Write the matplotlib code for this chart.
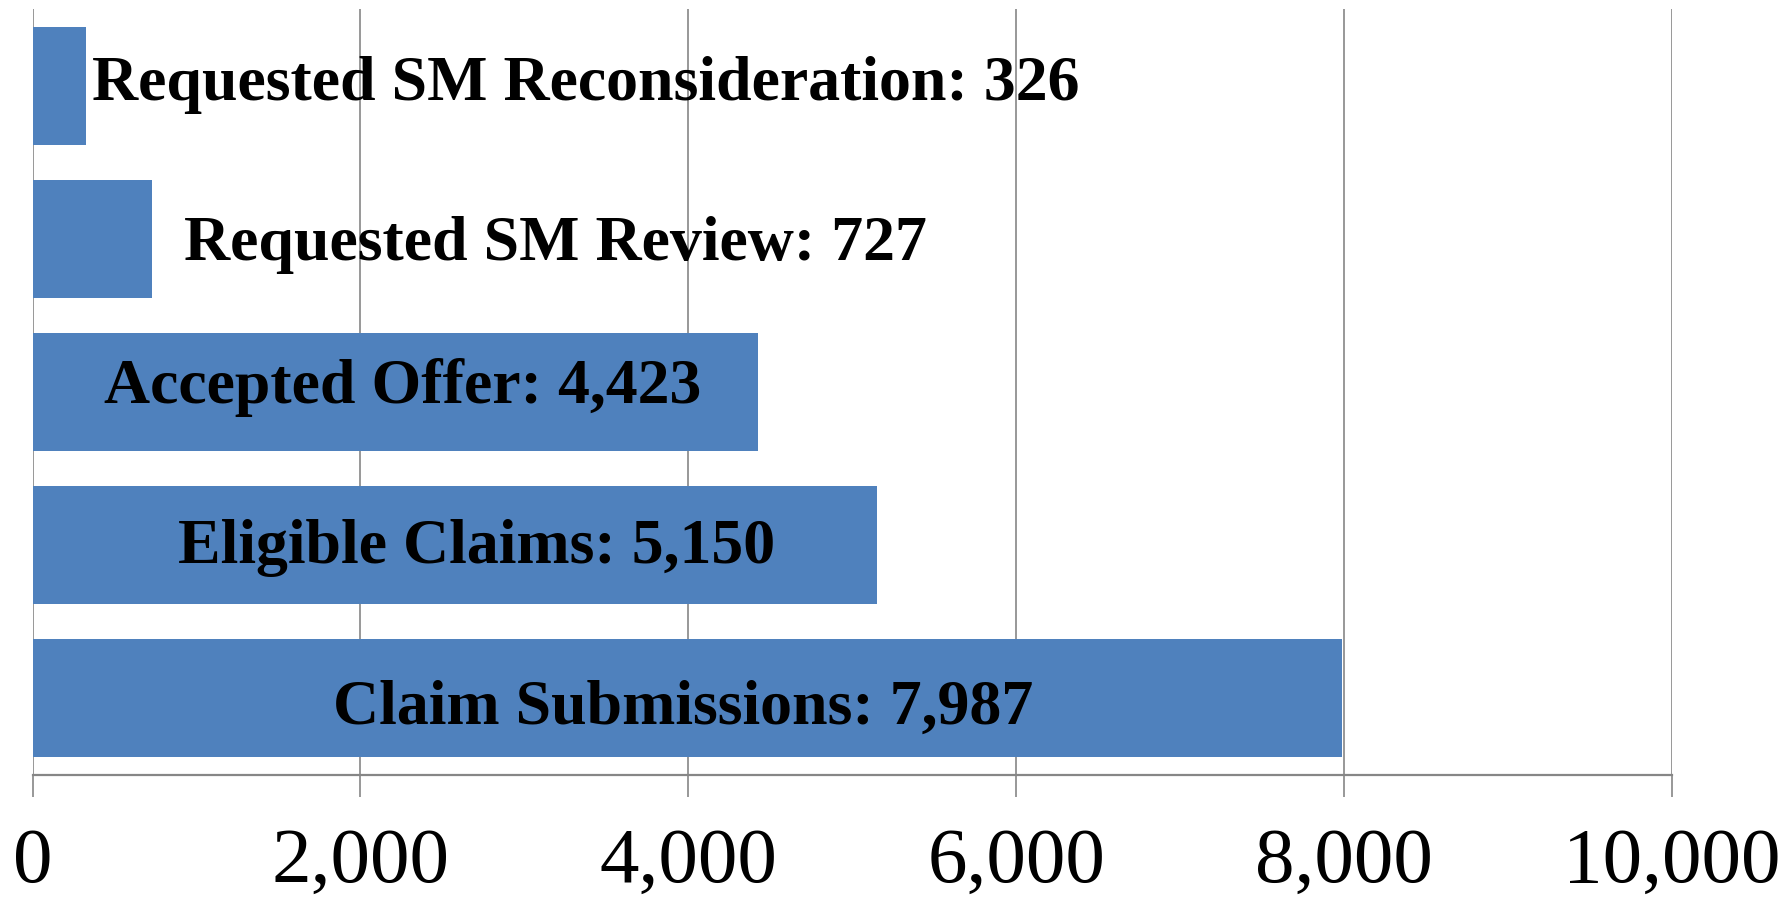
import matplotlib.pyplot as plt
from matplotlib.ticker import FuncFormatter

# Data (top to bottom in the chart)
categories = ['Requested SM Reconsideration', 'Requested SM Review',
              'Accepted Offer', 'Eligible Claims', 'Claim Submissions']
values = [326, 727, 4423, 5150, 7987]
x_ticks = [0, 2000, 4000, 6000, 8000, 10000]

# label placement relative to bar centre, in pixels (manual in the original)
label_dx = [527, 463, 8, 22, -4]
label_dy = [14, 21, 11, 18, 25]   # baseline below bar centre

bar_color = '#4F81BD'
grid_color = '#989898'

plt.rcParams['font.family'] = ['Liberation Serif', 'DejaVu Serif']

fig = plt.figure(figsize=(17.92, 8.99), dpi=100)
ax = fig.add_axes([32.5 / 1792, 124 / 899, (1672 - 32.5) / 1792, 766 / 899])

# plot bottom-up so the first category is on top
ypos = list(range(len(categories)))[::-1]
ax.barh(ypos, values, height=0.77, color=bar_color, zorder=3)

for y, v, name, dx, dy in zip(ypos, values, categories, label_dx, label_dy):
    ax.annotate(f'{name}: {v:,}', xy=(v / 2, y), xytext=(dx * 0.72, -dy * 0.72),
                textcoords='offset points', ha='center', va='baseline',
                fontsize=46, fontweight='bold', color='black', zorder=4)

ax.set_xlim(0, 10000)
ax.set_ylim(-0.5, len(categories) - 0.5)
ax.set_xticks(x_ticks)
ax.xaxis.set_major_formatter(FuncFormatter(lambda v, p: f'{int(v):,}'))
ax.set_yticks([])

ax.grid(axis='x', color=grid_color, linewidth=1.4, zorder=0)
for s in ['top', 'right', 'left']:
    ax.spines[s].set_visible(False)
ax.spines['bottom'].set_color('#868686')
ax.spines['bottom'].set_linewidth(1.6)
ax.tick_params(axis='x', length=16, width=1.4, color=grid_color,
               labelsize=57, pad=22)

fig.savefig('out.png', dpi=100)
